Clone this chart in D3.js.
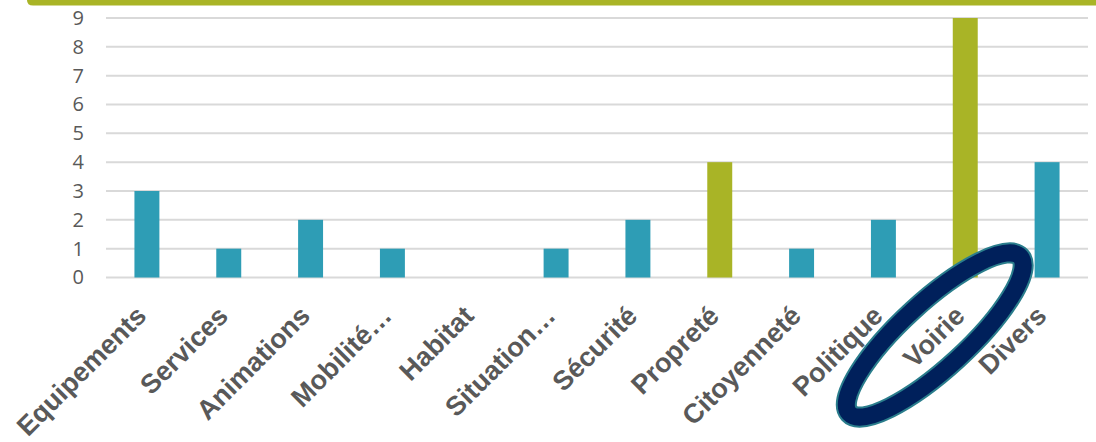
<!DOCTYPE html>
<html>
<head>
<meta charset="utf-8">
<script src="https://cdn.jsdelivr.net/npm/d3@7"></script>
<style>
  body { margin: 0; background: #fff; }
  svg { display: block; }
</style>
</head>
<body>
<div id="chart"></div>
<script>
  const categories = ["Equipements", "Services", "Animations", "Mobilité…", "Habitat", "Situation…",
    "Sécurité", "Propreté", "Citoyenneté", "Politique", "Voirie", "Divers"];
  const values = [3, 1, 2, 1, 0, 1, 2, 4, 1, 2, 9, 4];
  const highlighted = ["Propreté", "Voirie"];
  const yTicks = [0, 1, 2, 3, 4, 5, 6, 7, 8, 9];

  const width = 1096;
  const height = 442;
  const marginLeft = 106;
  const marginRight = 8;
  const marginTop = 18;
  const zeroY = 277.5;

  const teal = "#2e9db5";
  const green = "#a9b426";

  const x = d3.scaleBand()
    .domain(categories)
    .range([marginLeft, width - marginRight])
    .paddingInner(0.695)
    .paddingOuter(0.3475);

  const y = d3.scaleLinear()
    .domain([0, 9])
    .range([zeroY, marginTop]);

  const svg = d3.select("#chart").append("svg")
    .attr("width", width)
    .attr("height", height);

  // green header strip
  svg.append("path")
    .attr("d", "M27,0 H1096 V5.5 H33 Q27,5.5 27,0 Z")
    .attr("fill", green);

  // gridlines
  svg.append("g")
    .selectAll("line")
    .data(yTicks)
    .join("line")
    .attr("x1", marginLeft)
    .attr("x2", width - marginRight)
    .attr("y1", d => y(d))
    .attr("y2", d => y(d))
    .attr("stroke", "#d9d9d9")
    .attr("stroke-width", 2);

  // y axis labels
  const yAxis = svg.append("g")
    .attr("transform", `translate(${marginLeft - 22},0)`)
    .call(d3.axisLeft(y).tickValues(yTicks).tickSize(0).tickPadding(0));
  yAxis.select(".domain").remove();
  yAxis.selectAll("text")
    .attr("fill", "#595959")
    .attr("font-family", "Open Sans, sans-serif")
    .attr("font-size", 20);

  // bars
  svg.append("g")
    .selectAll("rect")
    .data(categories)
    .join("rect")
    .attr("x", d => x(d))
    .attr("width", x.bandwidth())
    .attr("y", (d, i) => y(values[i]))
    .attr("height", (d, i) => y(0) - y(values[i]))
    .attr("fill", d => highlighted.includes(d) ? green : teal);

  // category labels
  svg.append("g")
    .selectAll("text")
    .data(categories)
    .join("text")
    .attr("transform", d => `translate(${x(d) + x.bandwidth() / 2 + 1},${zeroY + 40}) rotate(-45)`)
    .attr("text-anchor", "end")
    .attr("fill", "#595959")
    .attr("font-family", "Liberation Sans, Arial, sans-serif")
    .attr("font-weight", "bold")
    .attr("font-size", 27)
    .text(d => d);

  // highlight ellipse around Voirie
  const cx = x("Voirie") + x.bandwidth() / 2 - 30.5;
  const cy = zeroY + 57.5;
  [["#2a7d8c", 21], ["#00205b", 17]].forEach(([color, w]) => {
    svg.append("ellipse")
      .attr("transform", `translate(${cx},${cy}) rotate(-42.5)`)
      .attr("rx", 116)
      .attr("ry", 33)
      .attr("fill", "none")
      .attr("stroke", color)
      .attr("stroke-width", w);
  });
</script>
</body>
</html>
